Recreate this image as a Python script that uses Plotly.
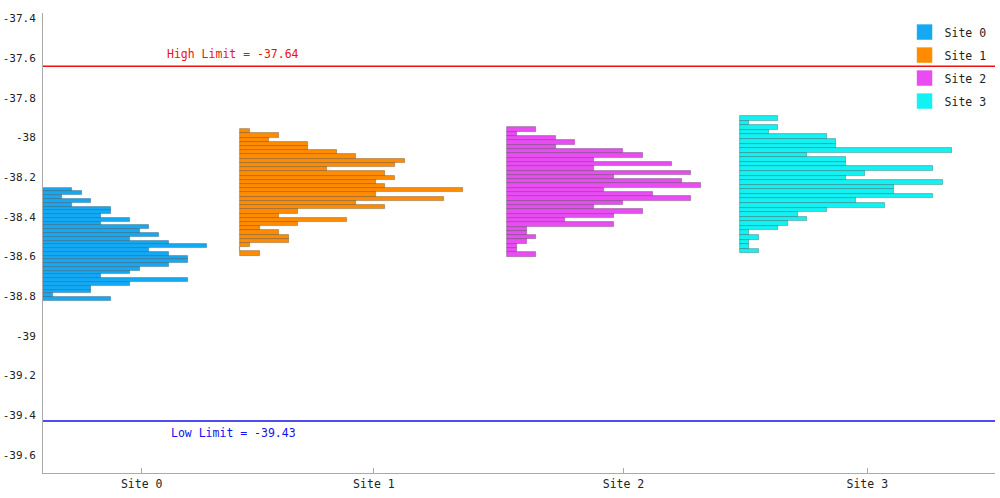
import numpy as np
import plotly.graph_objects as go

# ---------------- data ----------------
sites = ["Site 0", "Site 1", "Site 2", "Site 3"]
colors = ["#14a9f5", "#ff8c00", "#e84cf2", "#12f2f2"]

# histogram bin range per site (upper edge, lower edge), 30 bins each
bin_top = [-38.253, -37.958, -37.949, -37.892]
bin_bottom = [-38.824, -38.596, -38.601, -38.584]

# counts listed from the top bin (highest value) to the bottom bin
counts_site0 = [3, 4, 2, 5, 3, 7, 7, 6, 9, 6, 11, 10, 12, 9, 13, 17, 11, 13, 15, 15,
                13, 10, 9, 6, 15, 9, 5, 5, 1, 7]
counts_site1 = [1, 4, 3, 7, 7, 10, 12, 17, 16, 9, 15, 16, 14, 15, 23, 14, 21, 12, 15, 6,
                4, 11, 6, 2, 4, 5, 5, 1, 0, 2]
counts_site2 = [3, 1, 5, 7, 5, 12, 14, 9, 17, 9, 19, 11, 18, 20, 10, 15, 19, 12, 9, 14,
                11, 6, 11, 2, 2, 3, 2, 1, 1, 3]
counts_site3 = [4, 1, 4, 3, 9, 10, 10, 22, 7, 11, 11, 20, 13, 11, 21, 16, 16, 20, 12, 15,
                9, 6, 7, 5, 4, 1, 2, 1, 1, 2]
counts = [counts_site0, counts_site1, counts_site2, counts_site3]

high_limit = -37.64
low_limit = -39.43

ytick_vals = [-37.4, -37.6, -37.8, -38.0, -38.2, -38.4, -38.6, -38.8, -39.0, -39.2, -39.4, -39.6]
ytick_text = ["-37.4", "-37.6", "-37.8", "-38", "-38.2", "-38.4", "-38.6", "-38.8",
              "-39", "-39.2", "-39.4", "-39.6"]

# ---------------- layout helpers ----------------
FONT = "DejaVu Sans Mono"
slot_factor = 1.2
slots = [slot_factor * max(c) for c in counts]
bases = [sum(slots[:i]) for i in range(len(slots))]
tick_pos = [b + s / 2 for b, s in zip(bases, slots)]
x_total = sum(slots)

fig = go.Figure()
for i, name in enumerate(sites):
    n = len(counts[i])
    bw = (bin_top[i] - bin_bottom[i]) / n
    centers = [bin_top[i] - bw * (k + 0.5) for k in range(n)]
    fig.add_trace(go.Bar(
        x=counts[i], y=centers, base=bases[i], width=bw, orientation="h",
        marker=dict(color=colors[i], line=dict(color="rgba(40,40,40,0.38)", width=0.8)),
        name=name, showlegend=False, hoverinfo="skip",
    ))
    # legend swatch
    fig.add_trace(go.Scatter(
        x=[None], y=[None], mode="markers", name=name, legendgroup=name,
        marker=dict(symbol="square", size=16, color=colors[i],
                    line=dict(color="rgba(255,255,255,0.6)", width=1)),
    ))

fig.add_shape(type="line", xref="paper", x0=0, x1=1, y0=high_limit, y1=high_limit,
              line=dict(color="#ee1111", width=1.5))
fig.add_shape(type="line", xref="paper", x0=0, x1=1, y0=low_limit, y1=low_limit,
              line=dict(color="#1111ee", width=1.5))
fig.add_annotation(xref="paper", x=0.2, y=high_limit, text=f"High Limit = {high_limit}",
                   showarrow=False, xanchor="center", yanchor="bottom", yshift=3,
                   font=dict(family=FONT, size=11.5, color="#ee1111"))
fig.add_annotation(xref="paper", x=0.2, y=low_limit, text=f"Low Limit = {low_limit}",
                   showarrow=False, xanchor="center", yanchor="top", yshift=-3,
                   font=dict(family=FONT, size=11.5, color="#1111ee"))

fig.update_layout(
    width=1000, height=498,
    margin=dict(l=43, r=5, t=13, b=25, autoexpand=False),
    paper_bgcolor="white", plot_bgcolor="white",
    font=dict(family=FONT, size=11.5, color="#222"),
    barmode="overlay", bargap=0,
    legend=dict(x=0.905, y=0.990, xanchor="left", yanchor="top",
                font=dict(family=FONT, size=11.5, color="#222"),
                tracegroupgap=4, bgcolor="rgba(0,0,0,0)", itemwidth=30),
)
fig.update_xaxes(range=[0, x_total], tickvals=tick_pos, ticktext=sites,
                 showgrid=False, zeroline=False, showline=True, linecolor="#aaa",
                 linewidth=1, ticks="inside", ticklen=5, tickcolor="#aaa",
                 automargin=False,
                 tickfont=dict(family=FONT, size=11.5, color="#222"))
fig.update_yaxes(range=[-39.692, -37.372], tickvals=ytick_vals, ticktext=ytick_text,
                 showgrid=False, zeroline=False, showline=True, linecolor="#aaa",
                 linewidth=1, ticks="", ticklabelstandoff=4, automargin=False,
                 tickfont=dict(family=FONT, size=11, color="#222"))

fig.write_html("out.html", config={"displayModeBar": False},
               post_script="document.body.style.margin='0';")
